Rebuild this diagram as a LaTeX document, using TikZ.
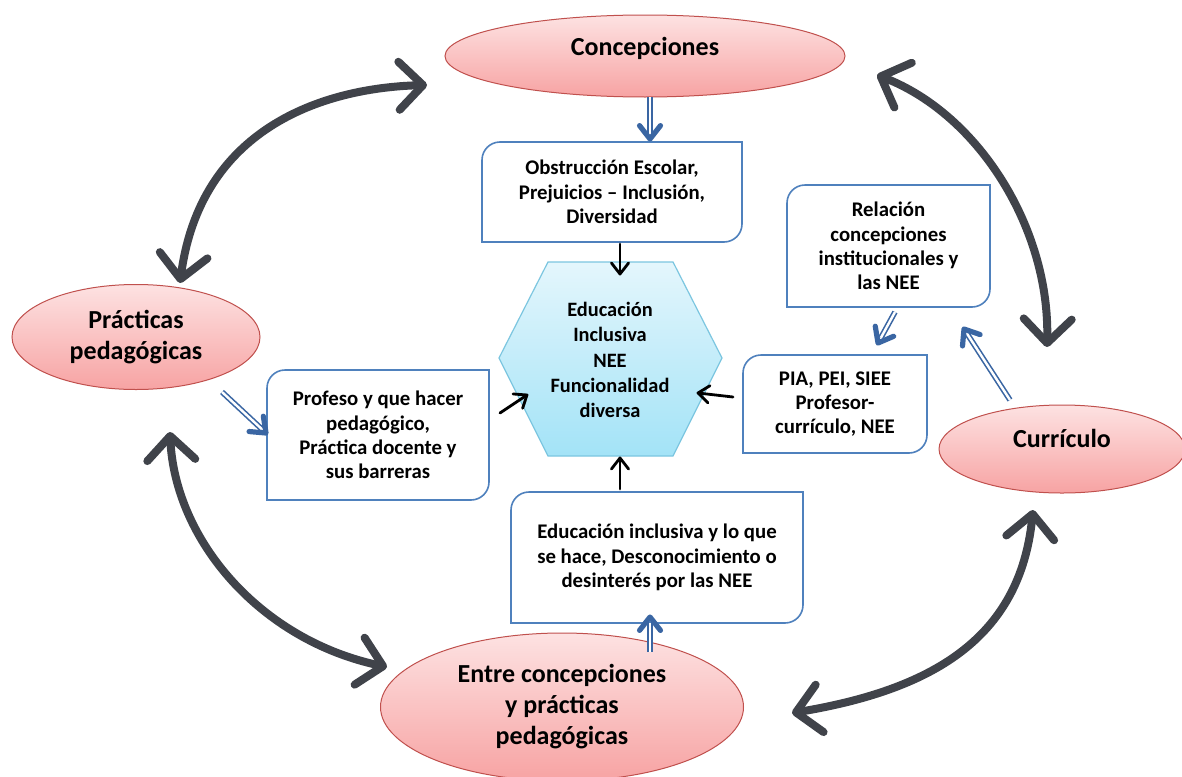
\documentclass[tikz,border=0pt]{standalone}
\usepackage{fontspec}
\setmainfont{Carlito}
\usetikzlibrary{shapes.geometric,calc,arrows.meta}
\definecolor{pinktop}{HTML}{FDE2E2}
\definecolor{pinkbot}{HTML}{F7A3A3}
\definecolor{pinkline}{HTML}{C0504D}
\definecolor{boxblue}{HTML}{4F81BD}
\definecolor{arrblue}{HTML}{3A66A3}
\definecolor{hextop}{HTML}{E4F6FC}
\definecolor{hexbot}{HTML}{A3E3F7}
\definecolor{hexline}{HTML}{7CC6E0}
\definecolor{pencil}{HTML}{40434A}
\newcommand{\chev}[4]{\draw[#1] ($(#2)!#4!38:(#3)$) -- (#2) -- ($(#2)!#4!-38:(#3)$);}
\newcommand{\rdbox}[1]{\draw[boxline] (#1.south west) -- ([yshift=-9pt]#1.north west) arc[start angle=180,end angle=90,radius=9pt] -- (#1.north east) -- ([yshift=9pt]#1.south east) arc[start angle=0,end angle=-90,radius=9pt] -- cycle;}
\tikzset{
  ell/.style={ellipse, draw=pinkline, line width=0.5pt, top color=pinktop, bottom color=pinkbot, font=\bfseries\fontsize{13}{15.5}\selectfont, align=center, inner sep=0pt, outer sep=0pt},
  boxtext/.style={font=\bfseries\fontsize{10.4}{12.2}\selectfont, align=center, inner sep=0pt, outer sep=0pt},
  boxline/.style={draw=boxblue, line width=0.8pt},
  blk/.style={line width=1.4pt, black, line cap=round, line join=round},
  dbl/.style={draw=arrblue, double=white, double distance=1.2pt, line width=0.8pt, shorten >=3pt},
  dhead/.style={draw=arrblue, line width=2.6pt, line cap=round, line join=round},
  pencilarrow/.style={draw=pencil, line width=4pt, line cap=round, {Straight Barb[length=12pt,width=24pt,round]}-{Straight Barb[length=12pt,width=24pt,round]}}
}
\begin{document}
\begin{tikzpicture}[x=0.5pt,y=-0.5pt]
\useasboundingbox[fill=white] (0,0) rectangle (1182,776);

% ellipses
\node[ell, minimum width=200pt, minimum height=41pt, text depth=10pt] (conc) at (645,56) {Concepciones};
\node[ell, minimum width=124pt, minimum height=52.5pt] (prac) at (136,337) {Prácticas\\pedagógicas};
\node[ell, minimum width=123pt, minimum height=44pt, text depth=11pt] (curr) at (1062,449) {Currículo};
\node[ell, minimum width=181.5pt, minimum height=74pt] (entre) at (562,707) {Entre concepciones\\y prácticas\\pedagógicas};

% hexagon
\path[draw=hexline, line width=0.6pt, top color=hextop, bottom color=hexbot]
  (548,262) -- (673,262) -- (722,358) -- (673,456) -- (548,456) -- (499,358) -- cycle;
\node[boxtext, font=\bfseries\fontsize{10.2}{12.6}\selectfont] (hex) at (610,360) {Educación\\Inclusiva\\NEE\\Funcionalidad\\diversa};

% boxes
\node[boxtext, minimum width=130pt, minimum height=50pt] (top) at (612,192) {Obstrucción Escolar,\\Prejuicios – Inclusión,\\Diversidad};
\rdbox{top}
\node[boxtext, minimum width=111pt, minimum height=65pt] (left) at (378,435) {Profeso y que hacer\\pedagógico,\\Práctica docente y\\sus barreras};
\rdbox{left}
\node[boxtext, minimum width=92pt, minimum height=49pt] (pia) at (835,404) {PIA, PEI, SIEE\\Profesor-\\currículo, NEE};
\rdbox{pia}
\node[boxtext, minimum width=101.5pt, minimum height=61pt] (rel) at (888.5,246) {Relación\\concepciones\\institucionales y\\las NEE};
\rdbox{rel}
\node[boxtext, minimum width=146pt, minimum height=65.5pt] (bot) at (657,557.5) {Educación inclusiva y lo que\\se hace, Desconocimiento o\\desinterés por las NEE};
\rdbox{bot}

% endpoints
\coordinate (b1s) at (650,97);   \coordinate (b1t) at (650,139);
\coordinate (b2s) at (222,392);  \coordinate (b2t) at (266,433);
\coordinate (b3s) at (895,312);  \coordinate (b3t) at (878,343);
\coordinate (b4s) at (1010,400); \coordinate (b4t) at (964,329);
\coordinate (b5s) at (650,652);  \coordinate (b5t) at (650,617);
\coordinate (k1s) at (620,244);  \coordinate (k1t) at (620,274);
\coordinate (k2s) at (500,413);  \coordinate (k2t) at (527,395);
\coordinate (k3s) at (733,397);  \coordinate (k3t) at (698,393);
\coordinate (k4s) at (620,489);  \coordinate (k4t) at (620,458);

% blue double arrows
\foreach \i in {1,...,5}{
  \draw[dbl] (b\i s) -- (b\i t);
  \chev{dhead}{b\i t}{b\i s}{8.5pt}
}
% black arrows
\foreach \i in {1,...,4}{
  \draw[blk] (k\i s) -- (k\i t);
  \chev{blk}{k\i t}{k\i s}{7pt}
}

% pencil arrows
\coordinate (p1a) at (427,85);   \coordinate (p1b) at (180,283);
\coordinate (p2a) at (877,75);   \coordinate (p2b) at (1047,347);
\coordinate (p3a) at (170,432);  \coordinate (p3b) at (387,667);
\coordinate (p4a) at (1033,510); \coordinate (p4b) at (792,713);
\draw[pencilarrow] (p1a) .. controls (320,88) and (200,130) .. (p1b);
\draw[pencilarrow] (p2a) .. controls (980,115) and (1050,230) .. (p2b);
\draw[pencilarrow] (p3a) .. controls (175,540) and (260,640) .. (p3b);
\draw[pencilarrow] (p4a) .. controls (1020,640) and (930,690) .. (p4b);
\end{tikzpicture}
\end{document}
